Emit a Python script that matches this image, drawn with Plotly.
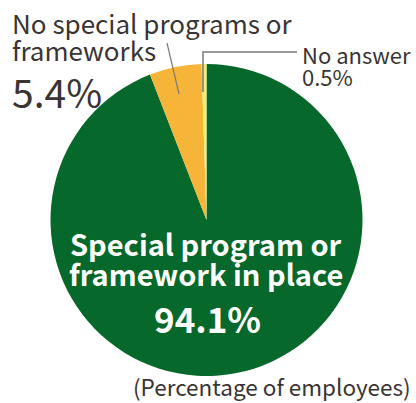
import plotly.graph_objects as go

W, H = 416, 403

labels = ["Special program or framework in place", "No special programs or frameworks", "No answer"]
values = [94.1, 5.4, 0.5]
colors = ["#07682b", "#f6b538", "#f2ee6f"]

FONT = "Noto Sans CJK JP"
TXT = "#3a3435"

def px(x):
    return x / W

def py(y):
    return 1 - y / H

cx, cy, r = 206.5, 220, 156

fig = go.Figure(go.Pie(
    labels=labels, values=values, sort=False, direction="clockwise", rotation=0,
    marker=dict(colors=colors, line=dict(width=0)),
    textinfo="none", hoverinfo="skip", showlegend=False,
    domain=dict(x=[px(cx - r), px(cx + r)], y=[py(cy + r), py(cy - r)]),
))

def ann(text, x, cap_top, size, xanchor="left", color=TXT):
    fig.add_annotation(text=text, x=px(x), y=py(cap_top - 0.43 * size), xref="paper", yref="paper",
                       xanchor=xanchor, yanchor="top", showarrow=False, align="left",
                       font=dict(family=FONT, size=size, color=color))

ann("No special programs or", 10, 13, 26)
ann("frameworks", 10, 40, 26)
ann(f"{values[1]}%", 10, 78, 39)
ann(labels[2], 300, 45, 22)
ann(f"{values[2]}%", 300, 67, 22)
ann("<b>Special program or</b>", 206, 232, 29, xanchor="center", color="white")
ann("<b>framework in place</b>", 206, 262, 29, xanchor="center", color="white")
ann(f"<b>{values[0]}%</b>", 207.5, 305, 35, xanchor="center", color="white")
ann("(Percentage of employees)", 413, 377.5, 22.5, xanchor="right")

fig.add_shape(type="line", xref="paper", yref="paper",
              x0=px(167), y0=py(43), x1=px(179), y1=py(94),
              line=dict(color="#7a7a7a", width=1.2))
fig.add_shape(type="path", xref="paper", yref="paper",
              path=f"M {px(203)} {py(92)} L {px(203)} {py(52)} L {px(297)} {py(52)}",
              line=dict(color="#7a7a7a", width=1.5))

fig.update_layout(width=W, height=H, margin=dict(l=0, r=0, t=0, b=0),
                  paper_bgcolor="white", plot_bgcolor="white")
fig.write_html("out.html", config={"displayModeBar": False},
               post_script="document.body.style.margin='0';")
